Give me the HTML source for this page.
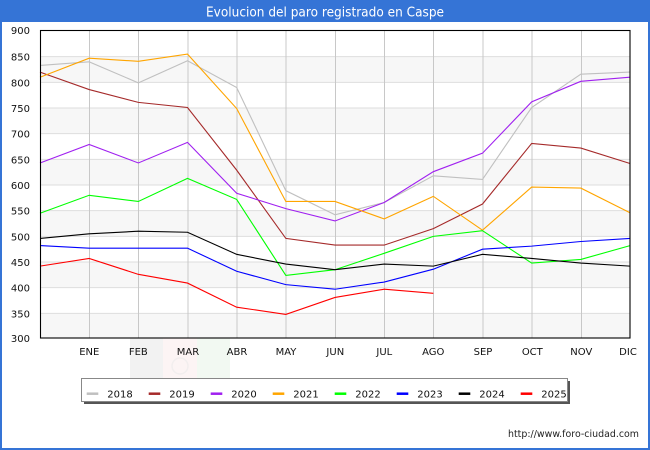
<!DOCTYPE html>
<html><head><meta charset="utf-8"><style>
html,body{margin:0;padding:0;background:#fff;}
svg{display:block;}
text{font-family:"DejaVu Sans","Liberation Sans",sans-serif;}
</style></head><body>
<svg width="650" height="450" viewBox="0 0 650 450" xmlns="http://www.w3.org/2000/svg">
<rect x="0" y="0" width="650" height="450" fill="#fff"/>
<!-- frame -->
<rect x="0" y="0" width="650" height="22" fill="#3574d6"/>
<rect x="0" y="0" width="2" height="450" fill="#3574d6"/>
<rect x="648" y="0" width="2" height="450" fill="#3574d6"/>
<rect x="0" y="448" width="650" height="2" fill="#3574d6"/>
<text x="325" y="16.5" font-size="13" fill="#fff" text-anchor="middle" textLength="238" lengthAdjust="spacingAndGlyphs">Evolucion del paro registrado en Caspe</text>

<!-- watermark -->
<rect x="130" y="338" width="33" height="40" fill="#f2f2f2"/>
<rect x="163" y="338" width="34" height="40" fill="#fcf4f4"/>
<rect x="197" y="338" width="33" height="40" fill="#f2f9f2"/>
<circle cx="180" cy="366" r="8" fill="none" stroke="#f2eeee" stroke-width="1.5"/>

<!-- bands -->
<g fill="#f7f7f7">
<rect x="40" y="56.67" width="590" height="25.67"/>
<rect x="40" y="108" width="590" height="25.67"/>
<rect x="40" y="159.33" width="590" height="25.67"/>
<rect x="40" y="210.67" width="590" height="25.67"/>
<rect x="40" y="262" width="590" height="25.67"/>
<rect x="40" y="313.33" width="590" height="24.67"/>
</g>
<!-- horizontal grid -->
<g stroke="#dedede" stroke-width="1">
<line x1="40" x2="630" y1="56.67" y2="56.67"/>
<line x1="40" x2="630" y1="82.33" y2="82.33"/>
<line x1="40" x2="630" y1="108" y2="108"/>
<line x1="40" x2="630" y1="133.67" y2="133.67"/>
<line x1="40" x2="630" y1="159.33" y2="159.33"/>
<line x1="40" x2="630" y1="185" y2="185"/>
<line x1="40" x2="630" y1="210.67" y2="210.67"/>
<line x1="40" x2="630" y1="236.33" y2="236.33"/>
<line x1="40" x2="630" y1="262" y2="262"/>
<line x1="40" x2="630" y1="287.67" y2="287.67"/>
<line x1="40" x2="630" y1="313.33" y2="313.33"/>
</g>
<!-- vertical grid -->
<g stroke="#c8c8c8" stroke-width="1">
<line x1="89.5" x2="89.5" y1="30" y2="338"/>
<line x1="138.5" x2="138.5" y1="30" y2="338"/>
<line x1="188" x2="188" y1="30" y2="338"/>
<line x1="237" x2="237" y1="30" y2="338"/>
<line x1="286" x2="286" y1="30" y2="338"/>
<line x1="335.5" x2="335.5" y1="30" y2="338"/>
<line x1="384.5" x2="384.5" y1="30" y2="338"/>
<line x1="433.5" x2="433.5" y1="30" y2="338"/>
<line x1="483" x2="483" y1="30" y2="338"/>
<line x1="532" x2="532" y1="30" y2="338"/>
<line x1="581.5" x2="581.5" y1="30" y2="338"/>
</g>

<!-- series -->
<g transform="translate(0,492) scale(1,-0.513333)" fill="none" stroke-width="1.1">
<polyline vector-effect="non-scaling-stroke" stroke="#c0c0c0" points="40,831 89.17,838 138.33,797 187.5,840 236.67,788 285.83,587 335,540 384.17,564 433.33,616 482.5,609 531.67,749 580.83,814 630,818"/>
<polyline vector-effect="non-scaling-stroke" stroke="#a52a2a" points="40,818 89.17,784 138.33,759 187.5,749 236.67,627 285.83,494 335,481 384.17,481 433.33,513 482.5,561 531.67,679 580.83,670 630,640"/>
<polyline vector-effect="non-scaling-stroke" stroke="#a020f0" points="40,641 89.17,677 138.33,641 187.5,681 236.67,582 285.83,552 335,528 384.17,564 433.33,624 482.5,660 531.67,760 580.83,800 630,808"/>
<polyline vector-effect="non-scaling-stroke" stroke="#ffa500" points="40,808 89.17,845 138.33,839 187.5,853 236.67,747 285.83,566 335,566 384.17,532 433.33,576 482.5,510 531.67,594 580.83,592 630,544"/>
<polyline vector-effect="non-scaling-stroke" stroke="#00ff00" points="40,543 89.17,578 138.33,566 187.5,611 236.67,570 285.83,422 335,433 384.17,465 433.33,498 482.5,509 531.67,446 580.83,453 630,480"/>
<polyline vector-effect="non-scaling-stroke" stroke="#0000ff" points="40,480 89.17,475 138.33,475 187.5,475 236.67,430 285.83,404 335,395 384.17,409 433.33,434 482.5,473 531.67,479 580.83,488 630,494"/>
<polyline vector-effect="non-scaling-stroke" stroke="#000000" points="40,494 89.17,503 138.33,508 187.5,506 236.67,463 285.83,444 335,433 384.17,444 433.33,440 482.5,463 531.67,455 580.83,446 630,440"/>
<polyline vector-effect="non-scaling-stroke" stroke="#ff0000" points="40,440 89.17,455 138.33,424 187.5,407 236.67,360 285.83,346 335,379 384.17,395 433.33,387"/>
</g>

<!-- plot frame -->
<rect x="40.5" y="30.5" width="589.5" height="307.5" fill="none" stroke="#000" stroke-width="1.1"/>

<!-- y labels -->
<g font-size="10" fill="#111" text-anchor="end">
<text x="30" y="34">900</text>
<text x="30" y="60.7">850</text>
<text x="30" y="86.3">800</text>
<text x="30" y="112">750</text>
<text x="30" y="137.7">700</text>
<text x="30" y="163.3">650</text>
<text x="30" y="189">600</text>
<text x="30" y="214.7">550</text>
<text x="30" y="240.3">500</text>
<text x="30" y="266">450</text>
<text x="30" y="291.7">400</text>
<text x="30" y="317.3">350</text>
<text x="30" y="342">300</text>
</g>
<!-- x labels -->
<g font-size="10" fill="#111" text-anchor="middle">
<text x="89.3" y="355">ENE</text>
<text x="138.3" y="355">FEB</text>
<text x="188" y="355">MAR</text>
<text x="237" y="355">ABR</text>
<text x="286" y="355">MAY</text>
<text x="335.3" y="355">JUN</text>
<text x="384.3" y="355">JUL</text>
<text x="433.3" y="355">AGO</text>
<text x="483" y="355">SEP</text>
<text x="532.3" y="355">OCT</text>
<text x="581.3" y="355">NOV</text>
<text x="628" y="355">DIC</text>
</g>

<!-- legend -->
<rect x="84" y="381" width="486" height="23" fill="#555"/>
<rect x="81.5" y="378.5" width="486" height="23" fill="#fff" stroke="#888" stroke-width="1"/>
<g stroke-width="2.5">
<line x1="86.7" x2="98.3" y1="393.7" y2="393.7" stroke="#c0c0c0"/>
<line x1="148.7" x2="160.3" y1="393.7" y2="393.7" stroke="#a52a2a"/>
<line x1="210.7" x2="222.3" y1="393.7" y2="393.7" stroke="#a020f0"/>
<line x1="272.7" x2="284.3" y1="393.7" y2="393.7" stroke="#ffa500"/>
<line x1="334.7" x2="346.3" y1="393.7" y2="393.7" stroke="#00ff00"/>
<line x1="396.7" x2="408.3" y1="393.7" y2="393.7" stroke="#0000ff"/>
<line x1="458.7" x2="470.3" y1="393.7" y2="393.7" stroke="#000000"/>
<line x1="520.7" x2="532.3" y1="393.7" y2="393.7" stroke="#ff0000"/>
</g>
<g font-size="10" fill="#111">
<text x="107.3" y="397.5">2018</text>
<text x="169.3" y="397.5">2019</text>
<text x="231.3" y="397.5">2020</text>
<text x="293.3" y="397.5">2021</text>
<text x="355.3" y="397.5">2022</text>
<text x="417.3" y="397.5">2023</text>
<text x="479.3" y="397.5">2024</text>
<text x="541.3" y="397.5">2025</text>
</g>

<text x="508" y="437" font-size="9.5" fill="#222" textLength="131" lengthAdjust="spacingAndGlyphs">http://www.foro-ciudad.com</text>
</svg>
</body></html>
